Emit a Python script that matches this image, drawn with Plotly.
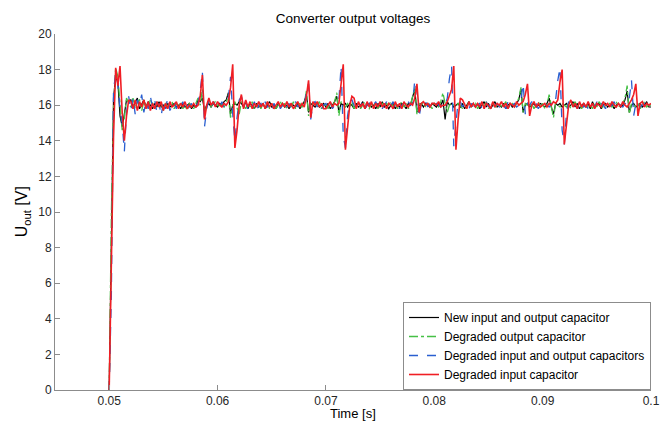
import numpy as np
import plotly.graph_objects as go

# Sampling of the recorded voltages (uniform time base, s)
T_START = 0.05
T_STEP = 0.0002

# Output voltage [V] for each test case
u_new = [
    0.0, 9.2, 16.4, 17.6, 17.3, 15.4, 14.8, 15.5, 16.3, 16.2,
    16.3, 15.9, 16.2, 16.4, 15.8, 16.1, 16.3, 15.9, 16.2, 16.0,
    15.8, 16.1, 15.9, 16.2, 15.9, 16.0, 15.8, 16.1, 15.9, 16.0,
    16.1, 15.9, 16.0, 15.8, 16.1, 15.9, 16.0, 16.1, 15.8, 16.0,
    15.9, 16.3, 16.2, 16.4, 15.7, 16.0, 16.1, 15.9, 16.1, 16.0,
    15.9, 16.1, 16.0, 16.2, 16.3, 16.7, 15.5, 16.0, 16.1, 16.0,
    16.2, 16.1, 15.9, 16.2, 15.8, 16.1, 16.0, 15.8, 16.1, 15.9,
    16.0, 16.1, 15.8, 16.0, 16.2, 15.9, 16.0, 15.8, 16.1, 15.9,
    16.1, 15.9, 16.0, 15.8, 16.1, 16.0, 15.9, 16.1, 15.8, 16.0,
    16.2, 16.6, 15.6, 16.1, 16.0, 15.9, 16.1, 15.9, 16.0, 16.1,
    15.9, 16.1, 15.8, 16.0, 16.2, 16.5, 15.6, 16.1, 16.0, 16.1,
    15.9, 16.1, 16.0, 15.8, 16.1, 15.9, 16.0, 16.2, 15.8, 16.0,
    16.1, 15.9, 16.0, 15.8, 16.1, 15.9, 16.2, 15.9, 16.0, 15.8,
    16.0, 16.1, 15.8, 16.0, 15.9, 16.1, 16.0, 15.8, 16.1, 16.0,
    16.4, 16.9, 15.6, 16.0, 16.1, 15.9, 16.1, 16.0, 15.9, 16.1,
    16.0, 15.9, 16.1, 16.0, 16.3, 15.2, 16.2, 16.0, 16.1, 15.9,
    16.0, 16.1, 15.9, 16.1, 15.8, 16.0, 16.2, 15.9, 16.1, 15.9,
    16.1, 15.8, 16.0, 16.2, 15.9, 16.1, 15.8, 16.0, 16.2, 15.9,
    16.0, 15.9, 16.1, 15.8, 16.0, 16.1, 15.9, 16.0, 16.1, 16.3,
    16.9, 15.6, 16.0, 16.1, 15.9, 16.0, 16.1, 15.9, 16.0, 16.1,
    16.0, 15.9, 16.1, 16.4, 15.9, 15.5, 16.1, 16.0, 16.1, 15.9,
    16.0, 16.1, 15.9, 16.0, 16.2, 15.9, 16.1, 15.8, 16.0, 16.1,
    15.9, 16.1, 15.8, 16.2, 15.9, 16.0, 16.1, 15.8, 16.0, 16.1,
    15.9, 16.0, 16.1, 15.8, 16.0, 16.1, 15.9, 16.0, 16.3, 16.8,
    15.6, 16.0, 16.1, 15.9, 16.0, 16.1, 15.9, 16.0, 16.2, 15.9,
    15.9,
]

u_deg_out = [
    0.0, 9.9, 15.8, 18.1, 17.6, 16.2, 14.6, 15.3, 16.4, 16.1,
    15.9, 16.4, 15.8, 16.2, 16.3, 15.7, 16.2, 16.0, 15.8, 16.3,
    16.1, 15.8, 16.2, 15.9, 16.1, 15.7, 16.2, 15.9, 16.0, 16.2,
    15.8, 16.1, 15.9, 16.2, 15.8, 16.0, 15.7, 16.1, 16.0, 15.8,
    16.1, 16.4, 16.0, 16.9, 15.5, 16.0, 16.2, 15.9, 16.1, 16.2,
    16.0, 15.9, 16.1, 15.9, 16.1, 16.6, 15.3, 16.0, 16.2, 15.9,
    15.5, 16.2, 16.0, 15.8, 16.1, 15.9, 16.2, 15.8, 16.0, 16.1,
    15.8, 16.1, 15.9, 16.2, 15.8, 16.0, 16.1, 15.8, 16.0, 16.2,
    15.9, 16.1, 15.8, 16.1, 15.9, 16.2, 15.8, 16.0, 16.1, 15.9,
    16.1, 16.8, 15.4, 16.1, 16.2, 15.9, 16.0, 16.2, 15.8, 16.0,
    16.0, 15.8, 16.1, 15.9, 16.2, 16.7, 15.4, 16.2, 16.0, 15.9,
    16.1, 15.9, 16.2, 15.8, 16.0, 16.1, 15.8, 16.0, 16.2, 15.9,
    15.8, 16.1, 15.9, 16.2, 15.8, 16.0, 16.1, 15.9, 16.1, 16.0,
    16.2, 15.9, 16.1, 15.8, 16.0, 16.2, 15.9, 16.1, 15.8, 16.0,
    16.5, 17.0, 15.5, 16.1, 16.0, 16.2, 15.9, 16.1, 16.0, 15.8,
    16.1, 16.0, 15.9, 16.2, 16.7, 16.1, 15.6, 16.0, 16.1, 16.0,
    15.9, 16.1, 16.0, 15.8, 16.1, 15.9, 16.2, 15.9, 16.0, 16.1,
    15.8, 16.0, 16.1, 15.9, 16.2, 15.8, 16.0, 16.1, 15.9, 16.0,
    16.1, 15.9, 16.0, 16.2, 15.8, 16.0, 16.1, 15.9, 16.1, 16.4,
    17.0, 15.6, 16.1, 16.0, 15.9, 16.1, 15.8, 16.0, 16.2, 15.9,
    16.1, 15.8, 16.0, 16.6, 16.0, 15.3, 16.1, 16.0, 15.9, 16.1,
    16.0, 15.9, 16.1, 15.8, 16.0, 16.2, 15.9, 16.1, 15.8, 16.0,
    16.1, 15.9, 16.0, 15.8, 16.1, 15.9, 16.2, 16.0, 15.8, 16.0,
    16.0, 16.1, 15.9, 16.0, 16.2, 15.9, 16.0, 16.1, 16.4, 17.1,
    15.5, 16.1, 16.0, 15.9, 16.1, 15.8, 16.0, 16.2, 15.9, 16.0,
    16.0,
]

u_deg_both = [
    0.0, 5.3, 16.8, 17.8, 17.2, 15.8, 15.0, 13.4, 15.6, 16.5,
    15.7, 16.4, 15.5, 16.3, 16.0, 16.6, 15.6, 16.2, 15.8, 16.5,
    15.9, 16.3, 15.6, 16.1, 15.4, 16.2, 15.8, 16.4, 15.7, 16.0,
    16.2, 15.8, 16.1, 15.9, 16.2, 15.7, 16.0, 15.9, 16.1, 15.8,
    16.0, 16.1, 16.8, 17.9, 14.8, 15.8, 16.3, 15.9, 16.2, 16.0,
    16.1, 15.9, 16.2, 15.9, 16.1, 16.4, 17.6, 15.5, 14.0, 15.3,
    16.3, 16.5, 16.0, 16.2, 15.8, 16.1, 15.9, 16.2, 15.7, 16.0,
    16.1, 15.8, 16.2, 15.9, 16.0, 15.7, 16.1, 15.9, 16.2, 15.8,
    16.0, 16.2, 15.9, 16.1, 15.8, 16.0, 16.2, 15.9, 16.1, 16.0,
    16.0, 16.7, 17.2, 15.2, 16.1, 16.2, 15.9, 16.1, 15.8, 16.0,
    16.1, 15.9, 16.2, 15.8, 16.0, 16.1, 16.3, 18.2, 14.3, 13.6,
    15.4, 16.2, 16.3, 16.0, 15.8, 16.1, 15.9, 16.2, 15.8, 16.0,
    16.1, 15.8, 16.0, 16.2, 15.9, 16.1, 15.8, 16.0, 16.2, 15.9,
    16.0, 16.2, 15.9, 16.1, 15.8, 16.0, 16.1, 15.9, 16.2, 16.0,
    16.1, 17.4, 16.8, 15.3, 16.1, 16.0, 16.2, 15.9, 16.1, 16.0,
    15.9, 16.1, 16.0, 15.9, 16.1, 16.0, 16.4, 17.5, 18.2, 13.7,
    15.0, 16.2, 16.2, 15.9, 16.1, 16.0, 15.8, 16.1, 15.9, 16.2,
    16.0, 16.1, 15.8, 16.0, 16.2, 15.9, 16.1, 15.8, 16.0, 16.1,
    15.9, 16.1, 16.0, 15.8, 16.2, 15.9, 16.0, 16.1, 15.9, 16.0,
    16.3, 17.2, 15.5, 16.1, 16.0, 16.2, 15.9, 16.1, 15.8, 16.0,
    15.9, 16.1, 16.0, 15.9, 16.1, 16.0, 16.3, 17.4, 18.1, 14.6,
    13.8, 15.6, 16.2, 16.0, 15.9, 16.1, 15.8, 16.0, 16.2, 15.9,
    16.0, 15.8, 16.1, 16.0, 15.9, 16.2, 15.9, 16.1, 16.0, 15.8,
    16.1, 15.9, 16.0, 16.2, 15.9, 16.1, 16.0, 15.9, 16.1, 16.0,
    16.4, 17.4, 15.4, 16.1, 16.2, 15.9, 16.0, 16.1, 15.9, 16.0,
    16.0,
]

u_deg_in = [
    0.0, 7.6, 14.2, 18.1, 17.1, 18.2, 15.6, 14.0, 15.4, 16.3,
    16.2, 15.8, 16.3, 15.7, 16.2, 15.9, 16.3, 15.8, 16.2, 15.7,
    16.1, 15.8, 16.2, 15.9, 16.2, 15.7, 16.1, 15.8, 16.2, 15.9,
    16.0, 16.2, 15.8, 16.1, 15.9, 16.2, 15.8, 16.0, 15.9, 16.1,
    15.9, 16.0, 16.5, 17.7, 15.2, 16.0, 16.4, 16.0, 16.2, 15.9,
    16.2, 16.0, 15.9, 16.1, 16.0, 16.2, 17.0, 18.3, 13.6, 14.6,
    16.0, 16.6, 15.8, 16.3, 15.9, 16.2, 15.8, 16.1, 15.9, 16.2,
    15.9, 16.1, 15.8, 16.2, 15.9, 16.1, 15.8, 16.0, 16.2, 15.9,
    16.1, 15.9, 16.2, 15.9, 16.1, 15.8, 16.0, 16.2, 15.9, 16.1,
    15.9, 16.5, 17.4, 15.3, 16.2, 16.0, 16.2, 15.9, 16.1, 15.8,
    15.8, 16.0, 16.2, 15.9, 16.1, 16.0, 16.1, 17.2, 18.3, 13.5,
    14.6, 16.0, 16.5, 16.4, 15.8, 16.2, 15.9, 16.1, 15.8, 16.2,
    15.9, 16.2, 15.8, 16.1, 15.9, 16.2, 15.9, 16.1, 15.8, 16.1,
    16.0, 15.8, 16.2, 15.9, 16.1, 15.8, 16.2, 16.0, 15.9, 16.1,
    16.0, 16.4, 17.2, 15.6, 16.1, 16.2, 16.0, 16.1, 15.9, 16.1,
    16.1, 16.0, 16.2, 15.9, 16.0, 16.0, 16.2, 16.6, 16.9, 18.2,
    13.5, 15.2, 16.4, 16.3, 16.0, 15.8, 16.2, 15.9, 16.1, 15.9,
    16.1, 15.9, 16.2, 15.8, 16.1, 16.0, 15.8, 16.2, 15.9, 16.1,
    16.0, 16.2, 15.9, 16.1, 15.8, 16.1, 16.0, 15.9, 16.2, 16.0,
    16.1, 16.2, 16.6, 17.2, 15.4, 16.0, 16.2, 15.9, 16.1, 15.9,
    16.0, 16.1, 15.9, 16.1, 16.0, 16.2, 16.1, 16.3, 17.3, 18.0,
    13.8, 14.9, 16.0, 16.3, 15.9, 16.1, 15.8, 16.2, 15.9, 16.1,
    15.9, 16.2, 15.9, 16.1, 15.8, 16.1, 16.0, 15.9, 16.2, 16.0,
    16.1, 15.9, 16.2, 16.0, 15.9, 16.1, 15.9, 16.2, 16.0, 15.9,
    16.1, 16.3, 16.6, 17.2, 15.4, 16.1, 16.2, 15.9, 16.1, 16.0,
    16.1,
]

series_names = [
    "New input and output capacitor",
    "Degraded output capacitor",
    "Degraded input and output capacitors",
    "Degraded input capacitor",
]
x_tick_vals = [0.05, 0.06, 0.07, 0.08, 0.09, 0.1]
x_tick_text = ["0.05", "0.06", "0.07", "0.08", "0.09", "0.1"]
y_tick_vals = [0, 2, 4, 6, 8, 10, 12, 14, 16, 18, 20]

time = T_START + T_STEP * np.arange(len(u_new))

styles = [
    dict(color="#000000", width=1.2, dash="solid"),
    dict(color="#46c046", width=1.3, dash="dashdot"),
    dict(color="#2a5fd0", width=1.3, dash="dash"),
    dict(color="#f01e24", width=1.6, dash="solid"),
]

FONT = "Arial, Liberation Sans, Helvetica, sans-serif"
fig = go.Figure()
for name, vals, st in zip(series_names, [u_new, u_deg_out, u_deg_both, u_deg_in], styles):
    fig.add_trace(go.Scatter(x=time, y=vals, mode="lines", name=name, line=st))

axis_common = dict(
    showgrid=False, zeroline=False, showline=True, linecolor="#8c8c8c",
    linewidth=1, ticks="inside", ticklen=5, tickcolor="#8c8c8c",
    tickfont=dict(family=FONT, size=12, color="#262626"), mirror=False,
)

fig.update_layout(
    width=672, height=426,
    margin=dict(l=55, r=19, t=34, b=36),
    paper_bgcolor="white", plot_bgcolor="white",
    font=dict(family=FONT, color="#262626"),
    title=dict(text="Converter output voltages", x=0.5, xref="paper",
               xanchor="center", y=1 - 18 / 426, yref="container",
               yanchor="middle", font=dict(size=13.5, color="#000000")),
    xaxis=dict(range=[0.045, 0.1], tickvals=x_tick_vals, ticktext=x_tick_text,
               **axis_common),
    yaxis=dict(range=[0, 20], tickvals=y_tick_vals, **axis_common),
    legend=dict(x=1, y=0, xanchor="right", yanchor="bottom",
                bgcolor="white", bordercolor="#8c8c8c", borderwidth=1,
                font=dict(family=FONT, size=12, color="#000000"),
                tracegroupgap=0, itemwidth=30),
    showlegend=True,
)

fig.add_annotation(text="U<sub>out</sub> [V]", xref="paper", yref="paper",
                   x=-0.055, y=0.5, xanchor="center", yanchor="middle",
                   textangle=-90, showarrow=False,
                   font=dict(family=FONT, size=16, color="#000000"))
fig.add_annotation(text="Time [s]", xref="paper", yref="paper",
                   x=0.5, y=-0.066, xanchor="center", yanchor="middle",
                   showarrow=False,
                   font=dict(family=FONT, size=13, color="#000000"))

fig.write_html("out.html")
